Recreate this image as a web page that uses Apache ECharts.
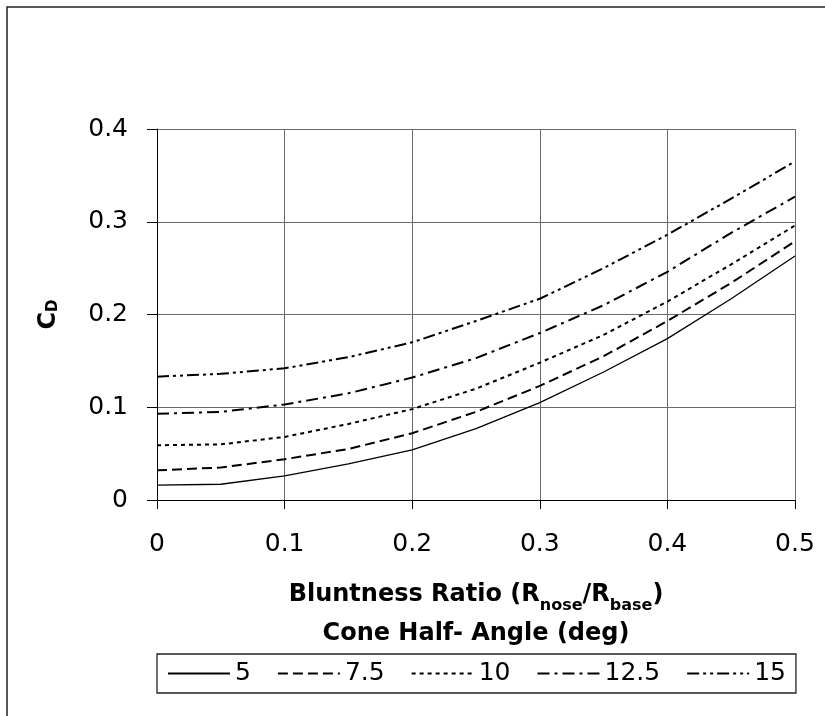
<!DOCTYPE html>
<html>
<head>
<meta charset="utf-8">
<script src="https://cdn.jsdelivr.net/npm/echarts@6/dist/echarts.min.js"></script>
<style>html,body{margin:0;padding:0;background:#fff}#c{width:825px;height:716px}</style>
</head>
<body>
<div id="c"></div>
<script>
const bluntness = [0, 0.05, 0.1, 0.15, 0.2, 0.25, 0.3, 0.35, 0.4, 0.45, 0.5];
const angleNames = ['5', '7.5', '10', '12.5', '15'];
const cd5   = [0.016, 0.017, 0.026, 0.039, 0.054, 0.077, 0.105, 0.138, 0.174, 0.217, 0.263];
const cd7_5 = [0.032, 0.035, 0.044, 0.055, 0.072, 0.095, 0.123, 0.155, 0.193, 0.234, 0.279];
const cd10  = [0.059, 0.060, 0.068, 0.082, 0.098, 0.120, 0.148, 0.178, 0.214, 0.254, 0.296];
const cd12_5= [0.093, 0.095, 0.103, 0.115, 0.132, 0.153, 0.180, 0.210, 0.246, 0.288, 0.327];
const cd15  = [0.133, 0.136, 0.142, 0.154, 0.170, 0.193, 0.217, 0.250, 0.286, 0.325, 0.365];
const yTicks = [0, 0.1, 0.2, 0.3, 0.4];
const xTicks = [0, 0.1, 0.2, 0.3, 0.4, 0.5];

const allValues = [cd5, cd7_5, cd10, cd12_5, cd15];
const dashTypes = ['solid', [10, 5], [4, 4], [12, 5, 3, 5], [12, 4, 3, 4, 3, 4]];
const widths = [1.3, 2, 2, 2, 2];
const FONT = 'DejaVu Sans';

const chart = echarts.init(document.getElementById('c'), null, {renderer: 'canvas'});
chart.setOption({
  animation: false,
  backgroundColor: '#fff',
  graphic: [{
    type: 'rect', shape: {x: 7, y: 7, width: 840, height: 730},
    style: {fill: 'none', stroke: '#222', lineWidth: 1.5}, silent: true, z: -1
  }],
  grid: {left: 157, right: 30, top: 129, bottom: 216, containLabel: false},
  xAxis: {
    type: 'value', min: 0, max: 0.5, interval: 0.1,
    axisLine: {show: true, onZero: false, lineStyle: {color: '#000', width: 1}},
    axisTick: {show: true, inside: false, length: 9, lineStyle: {color: '#000'}},
    axisLabel: {margin: 32, fontFamily: FONT, fontSize: 25, color: '#000',
      formatter: v => xTicks.includes(Math.round(v * 10) / 10) ? String(Math.round(v * 10) / 10) : ''},
    splitLine: {show: true, lineStyle: {color: '#6a6a6a', width: 1}},
    name: '{b|Bluntness Ratio (R}{s|nose}{b|/R}{s|base}{b|)}\n{b|Cone Half- Angle (deg)}',
    nameLocation: 'middle', nameGap: 75,
    nameTextStyle: {
      fontFamily: FONT, color: '#000', lineHeight: 39,
      rich: {
        b: {fontFamily: FONT, fontWeight: 'bold', fontSize: 24, color: '#000', lineHeight: 39},
        s: {fontFamily: FONT, fontWeight: 'bold', fontSize: 16, color: '#000', lineHeight: 39, verticalAlign: 'bottom', padding: [12, 0, 0, 0]}
      }
    }
  },
  yAxis: {
    type: 'value', min: 0, max: 0.4, interval: 0.1,
    axisLine: {show: true, lineStyle: {color: '#000', width: 1}},
    axisTick: {show: true, inside: false, length: 10, lineStyle: {color: '#000'}},
    axisLabel: {margin: 29, fontFamily: FONT, fontSize: 25, color: '#000',
      formatter: v => yTicks.includes(Math.round(v * 10) / 10) ? String(Math.round(v * 10) / 10) : ''},
    splitLine: {show: true, lineStyle: {color: '#6a6a6a', width: 1}},
    name: '{b|C}{s|D}',
    nameLocation: 'middle', nameRotate: 90, nameGap: 96,
    nameTextStyle: {
      rich: {
        b: {fontFamily: FONT, fontWeight: 'bold', fontSize: 24, color: '#000'},
        s: {fontFamily: FONT, fontWeight: 'bold', fontSize: 15, color: '#000', verticalAlign: 'bottom', padding: [8, 0, 0, 0]}
      }
    }
  },
  legend: {
    left: 157, top: 654,
    orient: 'horizontal',
    data: angleNames,
    itemWidth: 62, itemHeight: 14, itemGap: 26,
    padding: [7, 10, 7, 10],
    borderColor: '#222', borderWidth: 1.3,
    itemStyle: {opacity: 0},
    textStyle: {fontFamily: FONT, fontSize: 25, color: '#000', padding: [0, 0, 0, 0]}
  },
  series: angleNames.map((n, i) => ({
    name: n,
    type: 'line',
    data: bluntness.map((x, j) => [x, allValues[i][j]]),
    symbol: 'none',
    smooth: false,
    color: '#000',
    lineStyle: {color: '#000', width: widths[i], type: dashTypes[i]}
  }))
});
</script>
</body>
</html>
